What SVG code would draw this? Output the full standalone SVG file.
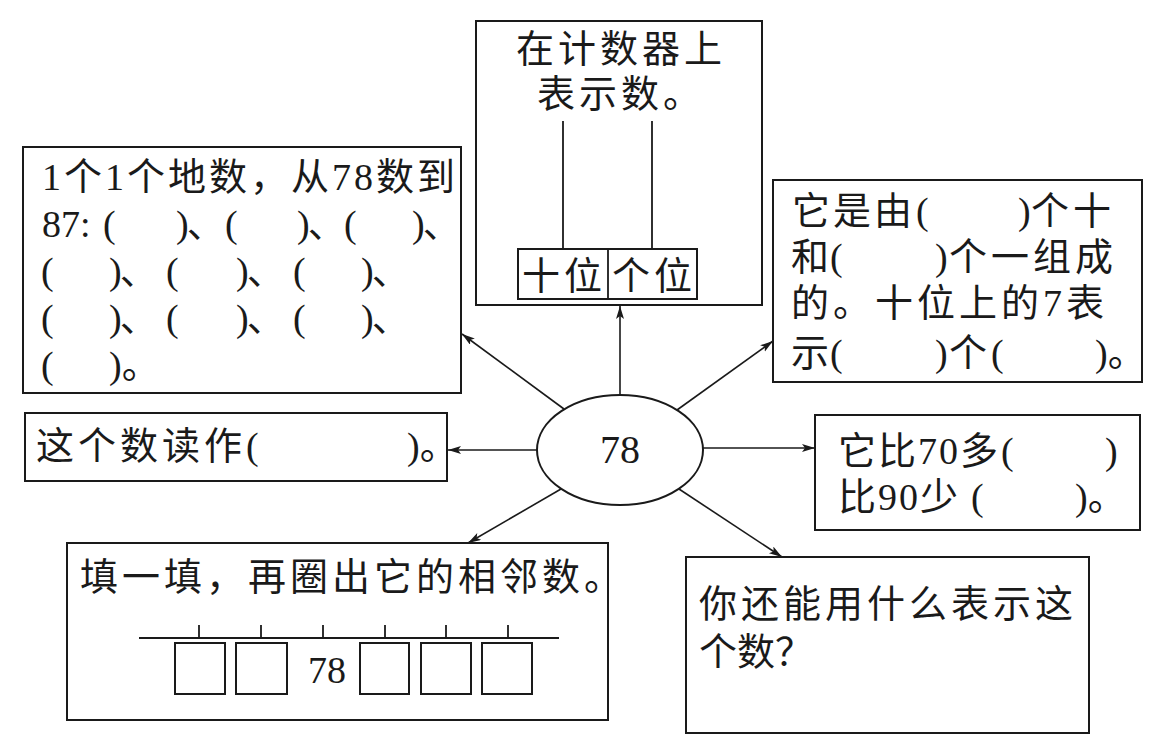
<svg xmlns="http://www.w3.org/2000/svg" width="1162" height="740" viewBox="0 0 1162 740">
<style>
.box{fill:#fff;stroke:#1a1a1a;stroke-width:2}
.ln{stroke:#1a1a1a;stroke-width:1.8;fill:none}
.t{font-family:"Liberation Serif","Noto Sans CJK SC",serif;font-size:38px;fill:#1a1a1a;letter-spacing:4px}
.t2{font-family:"Liberation Serif","Noto Sans CJK SC",serif;font-size:38px;fill:#1a1a1a;letter-spacing:2px}
.p{font-family:"Liberation Serif","Noto Sans CJK SC",serif;font-size:38px;fill:#1a1a1a}
.pc{font-family:"Liberation Serif","Noto Sans CJK SC",serif;font-size:38px;fill:#1a1a1a;letter-spacing:-2px}
.conn{stroke:#1a1a1a;stroke-width:1.6;fill:none;marker-end:url(#ah)}
</style>
<defs>
<marker id="ah" markerUnits="userSpaceOnUse" markerWidth="14" markerHeight="10" refX="13" refY="4" orient="auto">
<path d="M0,0 L13,4 L0,8 L3,4 z" fill="#1a1a1a"/>
</marker>
</defs>
<rect x="0" y="0" width="1162" height="740" fill="#fff"/>

<g id="connectors">
<line class="conn" x1="620" y1="395" x2="620" y2="306"/>
<line class="conn" x1="564" y1="409" x2="462" y2="334"/>
<line class="conn" x1="677" y1="410" x2="773" y2="341"/>
<line class="conn" x1="537" y1="450" x2="448" y2="450"/>
<line class="conn" x1="703" y1="448" x2="815" y2="448"/>
<line class="conn" x1="561" y1="489" x2="468" y2="543"/>
<line class="conn" x1="679" y1="489" x2="782" y2="557"/>
</g>

<g id="center">
<ellipse cx="620" cy="450" rx="83" ry="55" class="box"/>
<text class="p" x="620" y="463" text-anchor="middle" style="font-size:40px">78</text>
</g>

<g id="counter">
<rect class="box" x="476" y="21" width="286" height="284"/>
<text class="t" x="516" y="62">在计数器上</text>
<text class="t" x="537" y="107">表示数。</text>
<line class="ln" x1="563" y1="121" x2="563" y2="249"/>
<line class="ln" x1="652" y1="121" x2="652" y2="249"/>
<rect class="box" x="518" y="249" width="179" height="50"/>
<line class="ln" x1="608" y1="249" x2="608" y2="299"/>
<text class="t" x="522" y="289">十位</text>
<text class="t" x="612" y="289">个位</text>
</g>

<g id="count-by-ones">
<rect class="box" x="23" y="147" width="438" height="246"/>
<text class="t" x="42" y="190" style="letter-spacing:3px">1个1个地数，从78数到</text>
<text class="p" x="42" y="237">87:</text>
<text class="p" x="103" y="237">(</text><text class="pc" x="176" y="237">)、</text>
<text class="p" x="225" y="237">(</text><text class="pc" x="297" y="237">)、</text>
<text class="p" x="344" y="237">(</text><text class="pc" x="412" y="237">)、</text>
<text class="p" x="41" y="284">(</text><text class="pc" x="109" y="284">)、</text>
<text class="p" x="166" y="284">(</text><text class="pc" x="236" y="284">)、</text>
<text class="p" x="293" y="284">(</text><text class="pc" x="361" y="284">)、</text>
<text class="p" x="41" y="331">(</text><text class="pc" x="109" y="331">)、</text>
<text class="p" x="166" y="331">(</text><text class="pc" x="236" y="331">)、</text>
<text class="p" x="293" y="331">(</text><text class="pc" x="361" y="331">)、</text>
<text class="p" x="41" y="378">(</text><text class="p" x="109" y="378">)。</text>
</g>

<g id="composition">
<rect class="box" x="773" y="180" width="369" height="202"/>
<text class="t" x="792" y="224" style="letter-spacing:3px">它是由</text>
<text class="p" x="916" y="224">(</text><text class="p" x="1018" y="224">)</text>
<text class="t" x="1031" y="224">个十</text>
<text class="p" x="791" y="270">和</text>
<text class="p" x="830" y="270">(</text><text class="p" x="935" y="270">)</text>
<text class="t" x="949" y="270">个一组成</text>
<text class="t" x="791" y="316">的。十位上的7表</text>
<text class="p" x="791" y="366">示</text>
<text class="p" x="830" y="366">(</text><text class="p" x="935" y="366">)</text>
<text class="t" x="949" y="366">个</text>
<text class="p" x="991" y="366">(</text><text class="p" x="1095" y="366">)。</text>
</g>

<g id="read-as">
<rect class="box" x="25" y="413" width="422" height="68"/>
<text class="t" x="36" y="459">这个数读作</text>
<text class="p" x="246" y="459">(</text><text class="p" x="407" y="459">)。</text>
</g>

<g id="compare">
<rect class="box" x="815" y="415" width="325" height="115"/>
<text class="t2" x="838" y="464">它比70多</text>
<text class="p" x="1001" y="464">(</text><text class="p" x="1105" y="464">)</text>
<text class="t2" x="838" y="510">比90少</text>
<text class="p" x="971" y="510">(</text><text class="p" x="1075" y="510">)。</text>
</g>

<g id="number-line">
<rect class="box" x="67" y="543" width="541" height="177"/>
<text class="t" x="80" y="590">填一填，再圈出它的相邻数。</text>
<line class="ln" x1="139" y1="638" x2="559" y2="638"/>
<line class="ln" x1="199" y1="625" x2="199" y2="638"/>
<line class="ln" x1="261" y1="625" x2="261" y2="638"/>
<line class="ln" x1="323" y1="625" x2="323" y2="638"/>
<line class="ln" x1="385" y1="625" x2="385" y2="638"/>
<line class="ln" x1="446" y1="625" x2="446" y2="638"/>
<line class="ln" x1="508" y1="625" x2="508" y2="638"/>
<rect class="box" x="175" y="643" width="50" height="51"/>
<rect class="box" x="236" y="643" width="51" height="51"/>
<text class="p" x="327" y="683" text-anchor="middle">78</text>
<rect class="box" x="360" y="643" width="49" height="51"/>
<rect class="box" x="421" y="643" width="50" height="51"/>
<rect class="box" x="482" y="643" width="50" height="51"/>
</g>

<g id="other-ways">
<rect class="box" x="686" y="557" width="403" height="176"/>
<text class="t" x="699" y="617">你还能用什么表示这</text>
<text class="t" x="699" y="665" style="letter-spacing:0">个数？</text>
</g>
</svg>
